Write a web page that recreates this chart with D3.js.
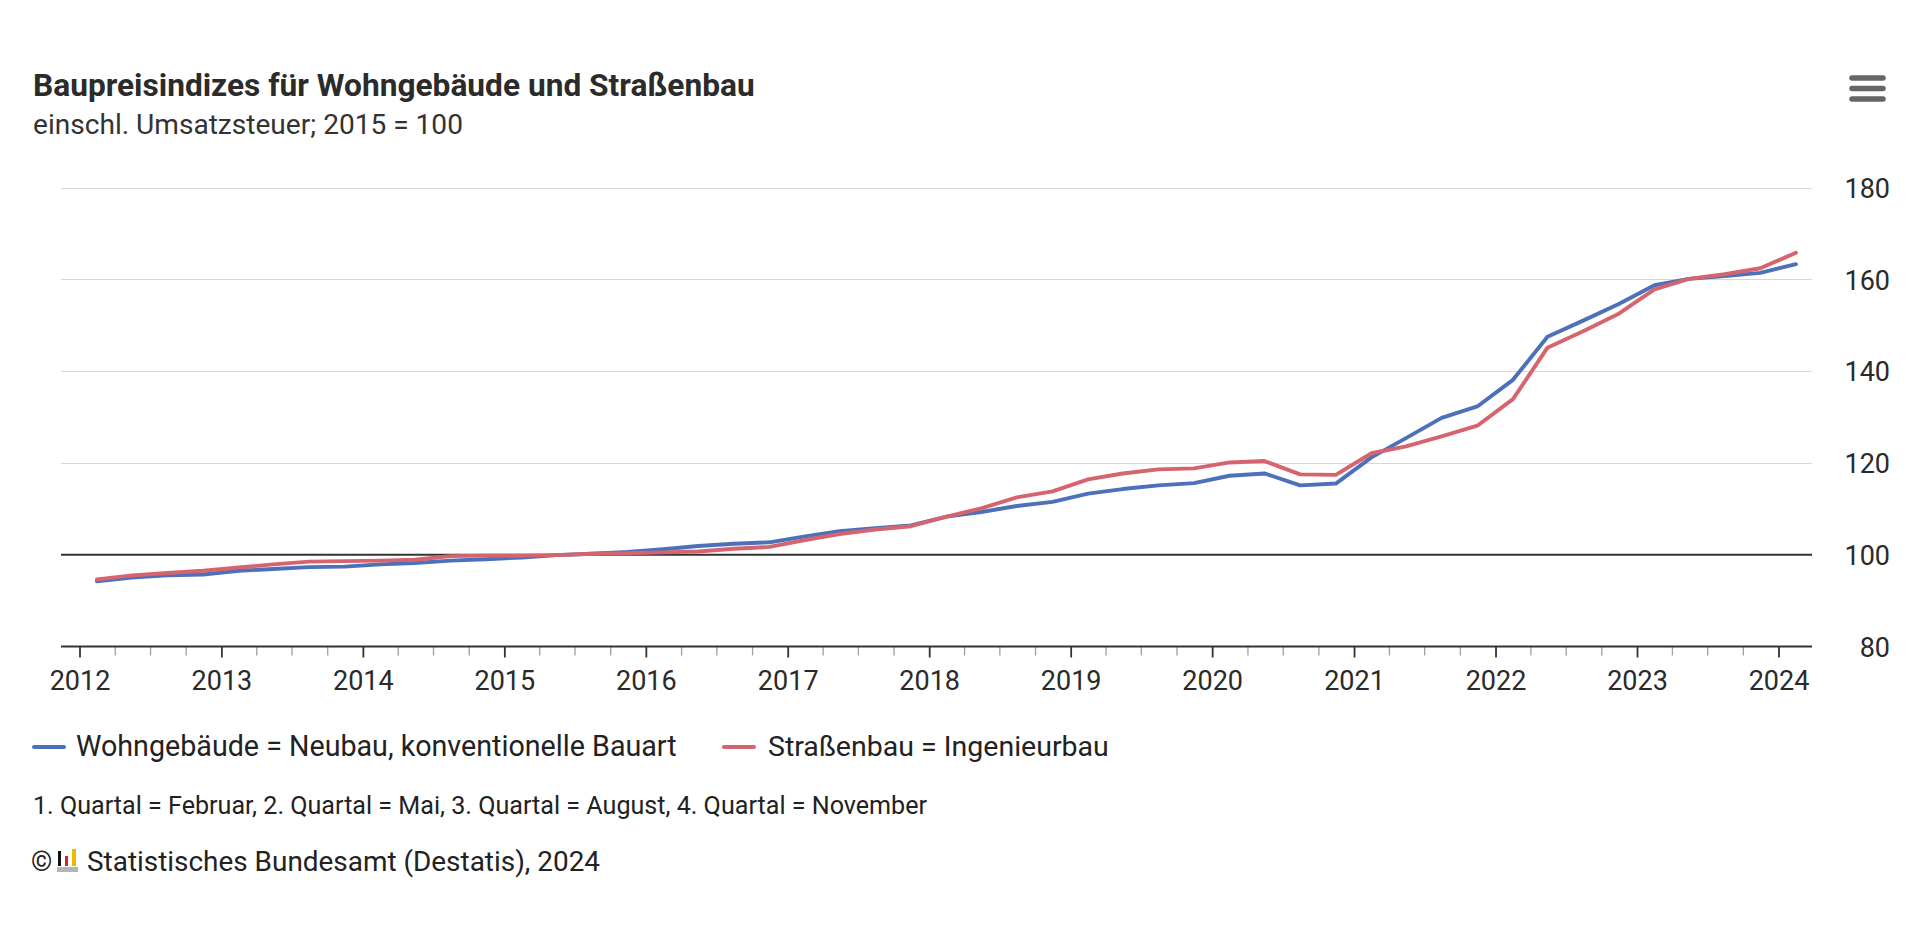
<!DOCTYPE html>
<html>
<head>
<meta charset="utf-8">
<script src="https://cdn.jsdelivr.net/npm/d3@7"></script>
<style>
  html, body { margin: 0; padding: 0; background: #ffffff; }
  svg { display: block; }
  text { font-family: Roboto, "Noto Sans", sans-serif; fill: #222; }
</style>
</head>
<body>
<svg id="chart" width="1920" height="946"></svg>
<script>
// ---------------- DATA ----------------
const quarters = [
  "2012-02-15","2012-05-15","2012-08-15","2012-11-15",
  "2013-02-15","2013-05-15","2013-08-15","2013-11-15",
  "2014-02-15","2014-05-15","2014-08-15","2014-11-15",
  "2015-02-15","2015-05-15","2015-08-15","2015-11-15",
  "2016-02-15","2016-05-15","2016-08-15","2016-11-15",
  "2017-02-15","2017-05-15","2017-08-15","2017-11-15",
  "2018-02-15","2018-05-15","2018-08-15","2018-11-15",
  "2019-02-15","2019-05-15","2019-08-15","2019-11-15",
  "2020-02-15","2020-05-15","2020-08-15","2020-11-15",
  "2021-02-15","2021-05-15","2021-08-15","2021-11-15",
  "2022-02-15","2022-05-15","2022-08-15","2022-11-15",
  "2023-02-15","2023-05-15","2023-08-15","2023-11-15",
  "2024-02-15"
];
const wohngebaeude = [
  94.2, 95.0, 95.5, 95.7,
  96.5, 96.9, 97.3, 97.4,
  97.9, 98.2, 98.7, 99.0,
  99.4, 99.9, 100.2, 100.6,
  101.2, 101.9, 102.4, 102.7,
  104.0, 105.1, 105.8, 106.4,
  108.3, 109.3, 110.6, 111.5,
  113.3, 114.3, 115.1, 115.6,
  117.2, 117.7, 115.1, 115.5,
  121.2, 125.4, 129.8, 132.3,
  138.1, 147.5, 151.0, 154.6,
  158.7, 160.1, 160.7, 161.4,
  163.3
];
const strassenbau = [
  94.6, 95.5, 96.0, 96.5,
  97.2, 97.9, 98.5, 98.6,
  98.7, 98.9, 99.7, 99.8,
  99.8, 99.9, 100.2, 100.3,
  100.5, 100.7, 101.3, 101.7,
  103.2, 104.5, 105.5, 106.2,
  108.3, 110.1, 112.5, 113.8,
  116.4, 117.7, 118.6, 118.8,
  120.1, 120.4, 117.5, 117.4,
  122.1, 123.6, 125.8, 128.1,
  133.9, 145.1, 148.7, 152.5,
  157.8, 160.1, 161.1, 162.4,
  165.8
];
const yTicks = [80, 100, 120, 140, 160, 180];
const seriesNames = ["Wohngebäude = Neubau, konventionelle Bauart", "Straßenbau = Ingenieurbau"];
const seriesColors = ["#4c70b9", "#d6646f"];
const titleText = "Baupreisindizes für Wohngebäude und Straßenbau";
const subtitleText = "einschl. Umsatzsteuer; 2015 = 100";
const footnoteText = "1. Quartal = Februar, 2. Quartal = Mai, 3. Quartal = August, 4. Quartal = November";
const creditText = "Statistisches Bundesamt (Destatis), 2024";

// ---------------- LAYOUT ----------------
const plotLeft = 61, plotRight = 1812, plotTop = 187.5, plotBottom = 646.5;
const svg = d3.select("#chart");

function fit(sel, target) {
  const w = sel.node().getComputedTextLength();
  const fs = parseFloat(sel.attr("font-size"));
  sel.attr("font-size", (fs * target / w).toFixed(2));
  return sel;
}

// scales
const parse = d3.utcParse("%Y-%m-%d");
const dates = quarters.map(parse);
const x = d3.scaleUtc()
  .domain([parse("2012-01-01"), parse("2024-01-01")])
  .range([79.5, 1778.5]);
x.domain([x.invert(plotLeft), x.invert(plotRight)]).range([plotLeft, plotRight]);
const y = d3.scaleLinear().domain([80, 180]).range([plotBottom, plotTop]);

// title
fit(svg.append("text").attr("x", 33).attr("y", 96).attr("font-size", 28)
  .attr("font-weight", 700).style("fill", "#2b2b2b").text(titleText), 722);
fit(svg.append("text").attr("x", 33).attr("y", 134).attr("font-size", 24)
  .style("fill", "#333").text(subtitleText), 430);

// menu icon
const menu = svg.append("g").attr("stroke", "#666").attr("stroke-width", 5.5).attr("stroke-linecap", "round");
[78, 88.5, 99].forEach(yy => menu.append("line").attr("x1", 1852).attr("x2", 1883).attr("y1", yy).attr("y2", yy));

// gridlines
svg.append("g").selectAll("line").data(yTicks.filter(t => t !== 80 && t !== 100)).join("line")
  .attr("x1", plotLeft).attr("x2", plotRight)
  .attr("y1", d => Math.round(y(d)) + 0.5).attr("y2", d => Math.round(y(d)) + 0.5)
  .attr("stroke", "#d6d6d6").attr("stroke-width", 1.2);

// y labels (right)
const yAxis = svg.append("g").attr("transform", `translate(${plotRight},0)`)
  .call(d3.axisRight(y).tickValues(yTicks).tickSize(0).tickPadding(78));
yAxis.select(".domain").remove();
yAxis.selectAll("text").attr("text-anchor", "end").attr("font-size", 27)
  .style("font-family", "Roboto, 'Noto Sans', sans-serif").style("fill", "#2a2a2a").attr("dy", "0.36em");

// minor quarter ticks
const minor = d3.utcMonth.every(3).range(x.domain()[0], x.domain()[1]).filter(d => d.getUTCMonth() !== 0);
svg.append("g").attr("transform", `translate(0,${plotBottom})`)
  .call(d3.axisBottom(x).tickValues(minor).tickSize(9).tickFormat(""))
  .call(g => g.select(".domain").remove())
  .call(g => g.selectAll("line").attr("stroke", "#a0a0a0").attr("stroke-width", 1.3));

// major year ticks + labels
const xAxis = svg.append("g").attr("transform", `translate(0,${plotBottom})`)
  .call(d3.axisBottom(x).ticks(d3.utcYear.every(1)).tickSize(11).tickPadding(13).tickFormat(d3.utcFormat("%Y")));
xAxis.select(".domain").remove();
xAxis.selectAll("line").attr("stroke", "#333").attr("stroke-width", 1.8);
xAxis.selectAll("text").attr("font-size", 27).style("font-family", "Roboto, 'Noto Sans', sans-serif").style("fill", "#2a2a2a");

// x axis line
svg.append("line").attr("x1", plotLeft).attr("x2", plotRight)
  .attr("y1", y(80)).attr("y2", y(80)).attr("stroke", "#333").attr("stroke-width", 2);
// 100 reference line
svg.append("line").attr("x1", plotLeft).attr("x2", plotRight)
  .attr("y1", y(100)).attr("y2", y(100)).attr("stroke", "#333").attr("stroke-width", 2);

// lines
const line = d3.line().x((d, i) => x(dates[i])).y(d => y(d));
[wohngebaeude, strassenbau].forEach((s, k) => {
  svg.append("path").datum(s).attr("d", line)
    .attr("fill", "none").attr("stroke", seriesColors[k]).attr("stroke-width", 3.9)
    .attr("stroke-linejoin", "round").attr("stroke-linecap", "round");
});

// legend
const legendItems = [
  { sx: 34, tx: 76, w: 601 },
  { sx: 724, tx: 768, w: 341 }
];
legendItems.forEach((it, k) => {
  svg.append("line").attr("x1", it.sx).attr("x2", it.sx + 30).attr("y1", 747).attr("y2", 747)
    .attr("stroke", seriesColors[k]).attr("stroke-width", 4).attr("stroke-linecap", "round");
  fit(svg.append("text").attr("x", it.tx).attr("y", 756).attr("font-size", 25)
    .style("fill", "#222").text(seriesNames[k]), it.w);
});

// footnote
fit(svg.append("text").attr("x", 33).attr("y", 814).attr("font-size", 21)
  .style("fill", "#222").text(footnoteText), 894);

// credit
svg.append("text").attr("x", 31).attr("y", 871).attr("font-size", 27).style("fill", "#222").text("©");
const logo = svg.append("g");
logo.append("rect").attr("x", 57).attr("y", 867).attr("width", 21).attr("height", 5).attr("fill", "#b5b5b5");
logo.append("rect").attr("x", 58).attr("y", 851).attr("width", 3).attr("height", 15).attr("fill", "#111");
logo.append("rect").attr("x", 65).attr("y", 856).attr("width", 3).attr("height", 10).attr("fill", "#d9232d");
logo.append("rect").attr("x", 72).attr("y", 849).attr("width", 4).attr("height", 17).attr("fill", "#f2b800");
fit(svg.append("text").attr("x", 87).attr("y", 871).attr("font-size", 24)
  .style("fill", "#222").text(creditText), 513);
</script>
</body>
</html>
